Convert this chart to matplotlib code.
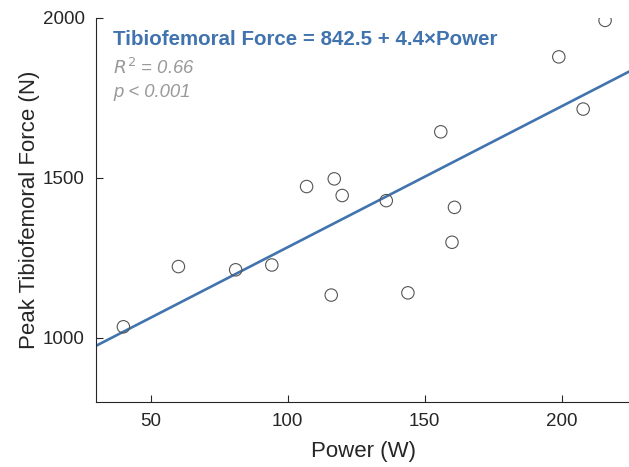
import matplotlib
matplotlib.use("Agg")
from matplotlib import pyplot as plt
import numpy as np

# --- Data ---
power = [40.0, 60.1, 81.0, 94.2, 106.9, 117.0, 119.9, 136.0, 115.9,
         143.9, 155.9, 160.9, 160.0, 199.0, 215.9, 207.9]
force = [1034, 1222, 1212, 1227, 1472, 1496, 1444, 1428, 1133,
         1140, 1643, 1407, 1298, 1877, 1991, 1714]
intercept = 842.5
slope = 4.4
r_squared = 0.66

xTicks = [50, 100, 150, 200]
yTicks = [1000, 1500, 2000]

# --- Style ---
plt.rcParams['font.family'] = ['Liberation Sans', 'DejaVu Sans']
axisColor = '#262626'
blue = '#4174AE'
gray = '#999999'

fig = plt.figure(figsize=(6.29, 4.67), dpi=100)
ax = fig.add_axes([96/629, (467-401.7)/467, (630-96)/629, (401.7-17.5)/467])

# Regression line across the visible range
xLine = np.array([30, 225])
ax.plot(xLine, intercept + slope*xLine, color=blue, linewidth=1.9, zorder=2)

# Scatter points
ax.scatter(power, force, s=80, facecolors='none', edgecolors='#555555',
           linewidths=0.8, zorder=3)

ax.set_xlim(30, 225)
ax.set_ylim(800, 2000)
ax.set_xticks(xTicks)
ax.set_yticks(yTicks)

for side in ['top', 'right']:
    ax.spines[side].set_visible(False)
for side in ['left', 'bottom']:
    ax.spines[side].set_color(axisColor)
    ax.spines[side].set_linewidth(0.8)
ax.tick_params(direction='in', length=5, width=0.8, colors=axisColor,
               labelsize=13.5, pad=8)

ax.set_xlabel('Power (W)', fontsize=16, color=axisColor, labelpad=8)
ax.set_ylabel('Peak Tibiofemoral Force (N)', fontsize=16, color=axisColor,
              labelpad=2)

# Annotation
ax.text(0.032, 0.929, 'Tibiofemoral Force = %.1f + %.1f\u00d7Power' % (intercept, slope),
        transform=ax.transAxes, fontsize=14.8, fontweight='bold', color=blue,
        ha='left', va='baseline')
ax.text(0.032, 0.853, '$R^2$ = %.2f' % r_squared, transform=ax.transAxes,
        fontsize=13.3, style='italic', color=gray, ha='left', va='baseline')
ax.text(0.032, 0.794, 'p < 0.001', transform=ax.transAxes,
        fontsize=13.3, style='italic', color=gray, ha='left', va='baseline')

fig.savefig('out.png', dpi=100)
